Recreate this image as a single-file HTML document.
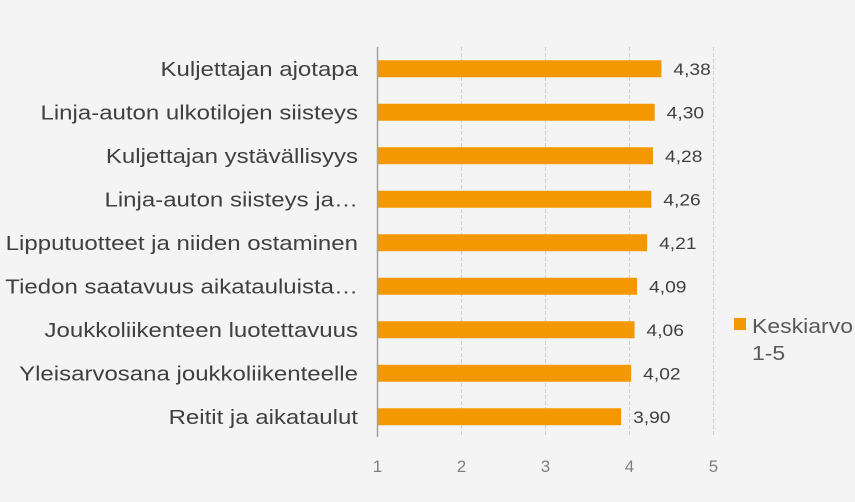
<!DOCTYPE html>
<html><head><meta charset="utf-8"><style>
html,body{margin:0;padding:0;background:#f4f4f4;}
svg{display:block;font-family:"Liberation Sans",sans-serif;}
</style></head><body>
<svg id="chart" width="855" height="502">
<rect width="855" height="502" fill="#f4f4f4"/>
<g id="grid"></g><g id="bars"></g><g id="labels"></g>
<g id="legend">
<rect x="734" y="318" width="12" height="12" fill="#f39800"/>
<text class="stretch" data-k="1.15" x="752" y="333" font-size="20" fill="#595959">Keskiarvo</text>
<text class="stretch" data-k="1.15" x="752" y="360" font-size="20" fill="#595959">1-5</text>
</g>
</svg>
<script>
const categories=["Kuljettajan ajotapa","Linja-auton ulkotilojen siisteys","Kuljettajan ystävällisyys","Linja-auton siisteys ja…","Lipputuotteet ja niiden ostaminen","Tiedon saatavuus aikatauluista…","Joukkoliikenteen luotettavuus","Yleisarvosana joukkoliikenteelle","Reitit ja aikataulut"];
const values=[4.38,4.30,4.28,4.26,4.21,4.09,4.06,4.02,3.90];
const valueLabels=["4,38","4,30","4,28","4,26","4,21","4,09","4,06","4,02","3,90"];
const ticks=[1,2,3,4,5];
const tickLabels=["1","2","3","4","5"];
const NS="http://www.w3.org/2000/svg";
const x=v=>377.5+(v-1)*84;
const top0=47,band=43.5;
const yc=i=>top0+band*(i+0.5);
function mk(tag,attrs,parent,txt){const e=document.createElementNS(NS,tag);for(const k in attrs)e.setAttribute(k,attrs[k]);if(txt!==undefined)e.textContent=txt;parent.appendChild(e);return e;}
const grid=document.getElementById('grid'),bars=document.getElementById('bars'),labels=document.getElementById('labels');
ticks.forEach((t,i)=>{
  if(t>1){const g=mk('line',{x1:x(t),x2:x(t),y1:top0,y2:437,stroke:'#d0d0d0','stroke-width':1,'stroke-dasharray':'4,2'},grid);
  
  }
  const tl=mk('text',{x:x(t),y:472,'font-size':17,fill:'#808080','text-anchor':'middle'},grid,tickLabels[i]);
  
  
});
categories.forEach((c,i)=>{
  const b=mk('rect',{x:x(1),y:yc(i)-8.5,width:x(values[i])-x(1),height:17,fill:'#f39800'},bars);
  
  
  const cl=mk('text',{x:358,y:yc(i)+7,'font-size':20,fill:'#404040','text-anchor':'end',class:'stretch','data-k':1.2},labels,c);
  
  
  const vl=mk('text',{x:x(values[i])+12,y:yc(i)+6,'font-size':17,fill:'#404040',class:'stretch','data-k':1.13},labels,valueLabels[i]);
  
  
});
const ax=mk('line',{x1:x(1),x2:x(1),y1:top0,y2:437,stroke:'#a0a0a0','stroke-width':1.5},bars);


document.querySelectorAll('text.stretch').forEach(t=>{
  const k=parseFloat(t.getAttribute('data-k'));
  const L=t.getComputedTextLength();
  t.setAttribute('textLength',(L*k).toFixed(1));
  t.setAttribute('lengthAdjust','spacingAndGlyphs');
});
</script>
</body></html>
